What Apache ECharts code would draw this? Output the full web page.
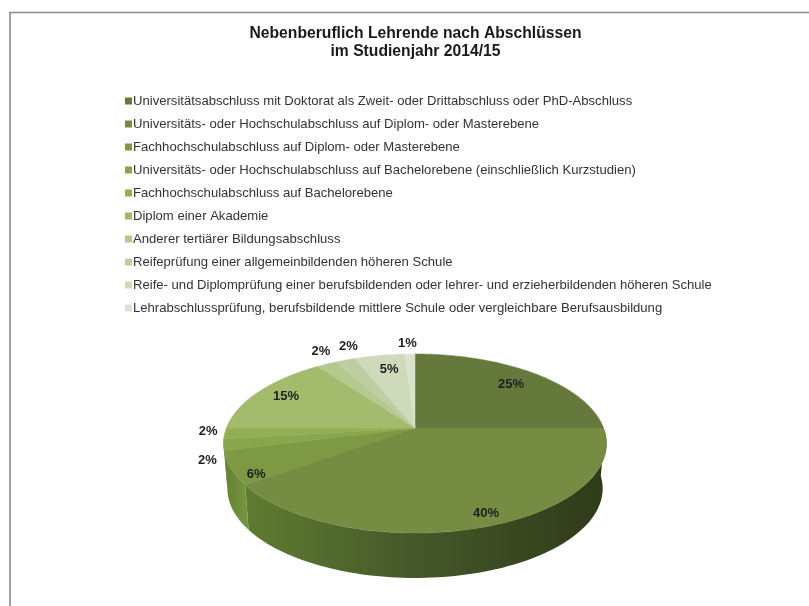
<!DOCTYPE html>
<html>
<head>
<meta charset="utf-8">
<style>html,body{margin:0;padding:0;background:#fff}#chart{width:809px;height:606px}</style>
<script src="https://cdn.jsdelivr.net/npm/echarts@6/dist/echarts.min.js"></script>
</head>
<body>
<div id="chart"></div>
<script>
// Abschlüsse der nebenberuflich Lehrenden, Anteile in Prozent
const categories = [
  'Universitätsabschluss mit Doktorat als Zweit- oder Drittabschluss oder PhD-Abschluss',
  'Universitäts- oder Hochschulabschluss auf Diplom- oder Masterebene',
  'Fachhochschulabschluss auf Diplom- oder Masterebene',
  'Universitäts- oder Hochschulabschluss auf Bachelorebene (einschließlich Kurzstudien)',
  'Fachhochschulabschluss auf Bachelorebene',
  'Diplom einer Akademie',
  'Anderer tertiärer Bildungsabschluss',
  'Reifeprüfung einer allgemeinbildenden höheren Schule',
  'Reife- und Diplomprüfung einer berufsbildenden oder lehrer- und erzieherbildenden höheren Schule',
  'Lehrabschlussprüfung, berufsbildende mittlere Schule oder vergleichbare Berufsausbildung'
];
const shares = [25, 40, 6, 2, 2, 15, 2, 2, 5, 1];

// Farben der Tortenoberseite
const topColors = ['#66793c', '#768c42', '#7d9944', '#88a64c', '#92af55', '#a2bb6c', '#b4c88f', '#bdcea1', '#cfdabb', '#dbe3cf'];
// Seitenwand: Verlauf links -> rechts je Segment
const wallColors = {
  1: ['#5f7c30', '#46592a', '#2f3a19'],
  2: ['#64822f', '#6c8b38', '#779641'],
  3: ['#76923f', '#76923f', '#76923f']
};
// Verschiebung der Prozentwerte gegenüber dem Segmentmittelpunkt
const labelOffsets = [[10, -4], [25, 20], [-33, 19], [-75, 21], [-74, 0], [-17.5, -5], [-30, -30], [-16, -32], [0, -6], [-4, -30]];

// Perspektivische Abbildung des Tortenkreises
const pie = { cx: 415, cy: 428, a: 188.6, b: 86.8, k: 0.173, depth: 45, bottomScale: 0.98, wallFrom: 92, wallTo: 266 };
const total = shares.reduce((s, v) => s + v, 0);
const startDeg = shares.map((_, i) => shares.slice(0, i).reduce((s, v) => s + v, 0) / total * 360);
const endDeg = shares.map((v, i) => startDeg[i] + v / total * 360);

function project(deg, r, scale, dy) {
  const t = deg * Math.PI / 180;
  const u = r * Math.sin(t), v = r * Math.cos(t);
  const w = 1 + pie.k * v;
  return [pie.cx + pie.a * (scale || 1) * u / w, pie.cy - pie.b * v / w + (dy || 0)];
}
function arc(from, to, scale, dy) {
  const pts = [];
  const n = Math.max(2, Math.ceil((to - from) / 1.5));
  for (let i = 0; i <= n; i++) pts.push(project(from + (to - from) * i / n, 1, scale, dy));
  return pts;
}

const renderWall = (params, api) => {
  const i = api.value(0);
  const from = Math.max(startDeg[i], pie.wallFrom), to = Math.min(endDeg[i], pie.wallTo);
  if (to <= from) return null;
  const stops = wallColors[i];
  if (!stops) return null;
  const upper = arc(from, to);
  const lower = arc(from, to, pie.bottomScale, pie.depth);
  const xs = upper.concat(lower).map(p => p[0]);
  const x0 = Math.min(...xs), x1 = Math.max(...xs);
  return {
    type: 'polygon',
    shape: { points: upper.concat(lower.reverse()) },
    style: {
      fill: new echarts.graphic.LinearGradient(x0, 0, x1, 0, [
        { offset: 0, color: stops[0] },
        { offset: 0.45, color: stops[1] },
        { offset: 1, color: stops[2] }
      ], true),
      stroke: null
    }
  };
};

const renderTop = (params, api) => {
  const i = api.value(0);
  const pts = [[pie.cx, pie.cy]].concat(arc(startDeg[i], endDeg[i]));
  const mid = project((startDeg[i] + endDeg[i]) / 2, 0.7);
  const off = labelOffsets[i];
  return {
    type: 'group',
    children: [
      { type: 'polygon', shape: { points: pts }, style: { fill: topColors[i], stroke: topColors[i], lineWidth: 0.5 } },
      {
        type: 'text', z2: 10,
        x: mid[0] + off[0], y: mid[1] + off[1],
        style: {
          text: api.value(1) + '%',
          font: 'bold 13px "Liberation Sans", Arial, sans-serif',
          fill: '#1f1f1f', align: 'center', verticalAlign: 'middle'
        }
      }
    ]
  };
};

const chart = echarts.init(document.getElementById('chart'), null, { renderer: 'canvas' });
chart.setOption({
  animation: false,
  backgroundColor: '#ffffff',
  title: {
    text: 'Nebenberuflich Lehrende nach Abschlüssen\nim Studienjahr 2014/15',
    left: 410.5, top: 19, textAlign: 'center',
    textStyle: { fontFamily: '"Liberation Sans", Arial, sans-serif', fontSize: 15.7, fontWeight: 'bold', color: '#1a1a1a', lineHeight: 18.5 }
  },
  legend: {
    orient: 'vertical', left: 120, top: 89,
    itemWidth: 7, itemHeight: 7, itemGap: 9,
    icon: 'rect', selectedMode: false,
    data: categories,
    formatter: n => n,
    textStyle: { fontFamily: '"Liberation Sans", Arial, sans-serif', fontSize: 13.1, color: '#333333', padding: [0, 0, 0, -4], lineHeight: 14, height: 14 }
  },
  graphic: [{
    type: 'polyline',
    shape: { points: [[10, 606], [10, 12.5], [809, 12.5]] },
    style: { stroke: '#8a8a8a', lineWidth: 1.6, fill: null },
    silent: true
  }],
  series: [
    {
      type: 'custom', coordinateSystem: 'none', z: 1, silent: true,
      renderItem: renderWall,
      data: shares.map((v, i) => [i, v])
    }
  ].concat(categories.map((name, i) => ({
    type: 'custom', coordinateSystem: 'none', z: 2, name,
    itemStyle: { color: topColors[i] },
    renderItem: renderTop,
    data: [[i, shares[i]]]
  })))
});
</script>
</body>
</html>
